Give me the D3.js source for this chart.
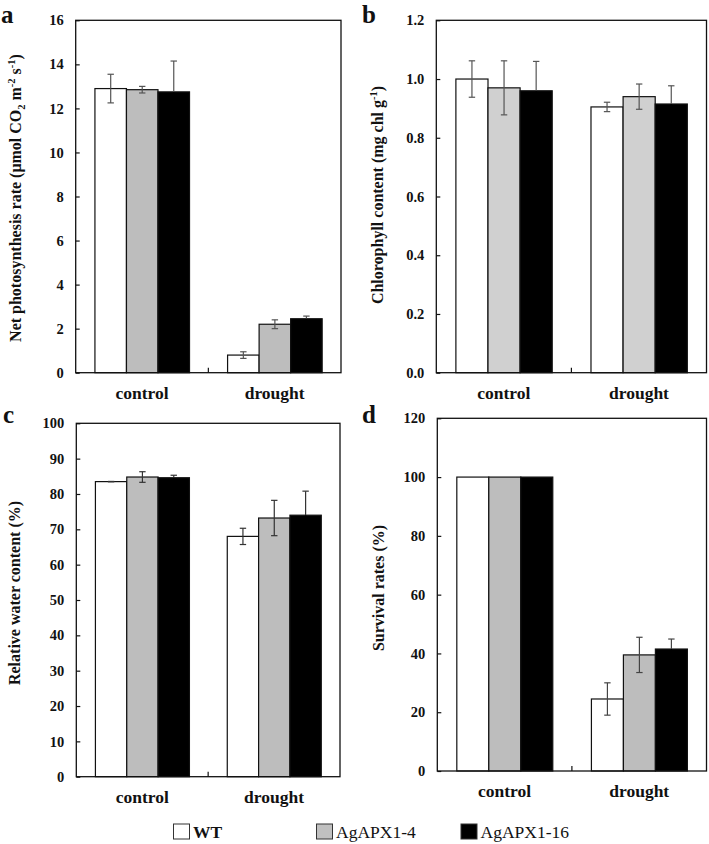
<!DOCTYPE html>
<html>
<head>
<meta charset="utf-8">
<script src="https://cdn.jsdelivr.net/npm/d3@7"></script>
<style>
  html, body { margin: 0; padding: 0; background: #fff; }
  svg { display: block; }
  text { font-family: "Liberation Serif", "Times New Roman", serif; }
</style>
</head>
<body>
<svg id="chart" width="709" height="844"></svg>
<script>
// ---------------- DATA ----------------
const categories = ["control", "drought"];
const series = ["WT", "AgAPX1-4", "AgAPX1-16"];

// panel a: net photosynthesis rate  [control, drought] per series
const photoWT   = [12.9, 0.8];
const photoL4   = [12.85, 2.2];
const photoL16  = [12.75, 2.45];
const photoErrWT  = [0.65, 0.15];
const photoErrL4  = [0.15, 0.2];
const photoErrL16 = [1.4, 0.12];
const photoTicks = [0, 2, 4, 6, 8, 10, 12, 14, 16];

// panel b: chlorophyll content
const chlWT   = [1.0, 0.905];
const chlL4   = [0.97, 0.94];
const chlL16  = [0.96, 0.915];
const chlErrWT  = [0.062, 0.016];
const chlErrL4  = [0.092, 0.043];
const chlErrL16 = [0.1, 0.062];
const chlTicks = [0, 0.2, 0.4, 0.6, 0.8, 1.0, 1.2];

// panel c: relative water content
const rwcWT   = [83.5, 68.0];
const rwcL4   = [84.8, 73.2];
const rwcL16  = [84.6, 74.0];
const rwcErrWT  = [0.05, 2.3];
const rwcErrL4  = [1.5, 5.0];
const rwcErrL16 = [0.7, 6.8];
const rwcTicks = [0, 10, 20, 30, 40, 50, 60, 70, 80, 90, 100];

// panel d: survival rates
const survWT   = [100, 24.5];
const survL4   = [100, 39.5];
const survL16  = [100, 41.5];
const survErrWT  = [0, 5.5];
const survErrL4  = [0, 6.0];
const survErrL16 = [0, 3.4];
const survTicks = [0, 20, 40, 60, 80, 100, 120];

// ---------------- DRAW ----------------
const svg = d3.select("#chart");
const fills = ["#ffffff", "#c0c0c0", "#000000"];

function panel(cfg) {
  const { left, right, top, bottom, max, ticks, fmt, vals, errs, letter, letterX, letterY,
          titleX, titleY, title, gray, errColor } = cfg;
  const g = svg.append("g");
  const y = d3.scaleLinear().domain([0, max]).range([bottom, top]);
  const x = d3.scaleBand().domain(categories).range([left, right]).padding(0);
  const bw = x.bandwidth();
  const xs = d3.scaleBand().domain(series).range([bw * 0.145, bw * 0.858]).padding(0);
  const colors = [fills[0], gray, fills[2]];

  // bars
  series.forEach((s, si) => {
    categories.forEach((c, ci) => {
      const v = vals[si][ci];
      g.append("rect")
        .attr("x", x(c) + xs(s))
        .attr("y", y(v))
        .attr("width", xs.bandwidth())
        .attr("height", y(0) - y(v))
        .attr("fill", colors[si])
        .attr("stroke", "#111")
        .attr("stroke-width", 1.2);
    });
  });
  // error bars
  series.forEach((s, si) => {
    categories.forEach((c, ci) => {
      const v = vals[si][ci], e = errs[si][ci];
      if (!e) return;
      const cx = x(c) + xs(s) + xs.bandwidth() / 2;
      const cw = 3.2;
      const up = g.append("g").attr("stroke", errColor).attr("stroke-width", 1.2);
      up.append("line").attr("x1", cx).attr("x2", cx).attr("y1", y(v)).attr("y2", y(v + e));
      up.append("line").attr("x1", cx - cw).attr("x2", cx + cw).attr("y1", y(v + e)).attr("y2", y(v + e));
      const lowCol = si === 2 ? "#000" : errColor;
      const lo = g.append("g").attr("stroke", lowCol).attr("stroke-width", 1.2);
      lo.append("line").attr("x1", cx).attr("x2", cx).attr("y1", y(v)).attr("y2", y(v - e));
      lo.append("line").attr("x1", cx - cw).attr("x2", cx + cw).attr("y1", y(v - e)).attr("y2", y(v - e));
    });
  });

  // frame
  g.append("rect").attr("x", left).attr("y", top)
    .attr("width", right - left).attr("height", bottom - top)
    .attr("fill", "none").attr("stroke", "#111").attr("stroke-width", 1.3);

  // y axis (inward ticks)
  const ax = g.append("g").attr("transform", `translate(${left},0)`)
    .call(d3.axisLeft(y).tickValues(ticks).tickFormat(fmt).tickSizeInner(-4).tickSizeOuter(0).tickPadding(12));
  ax.select(".domain").remove();
  ax.selectAll(".tick line").attr("stroke", "#111").attr("stroke-width", 1.2);
  ax.selectAll(".tick text").attr("font-family", "Liberation Serif, serif")
    .attr("font-weight", "bold").attr("font-size", 14.5).attr("fill", "#111");

  // x axis: middle tick + category labels
  const xa = g.append("g").attr("transform", `translate(0,${bottom})`)
    .call(d3.axisBottom(x).tickSize(0).tickPadding(0));
  xa.select(".domain").remove();
  xa.selectAll(".tick text").attr("font-family", "Liberation Serif, serif")
    .attr("font-weight", "bold").attr("font-size", 17.5).attr("fill", "#111")
    .attr("dy", null).attr("y", 26);
  g.append("line").attr("x1", x(categories[1])).attr("x2", x(categories[1]))
    .attr("y1", bottom).attr("y2", bottom - 5).attr("stroke", "#111").attr("stroke-width", 1.2);

  // panel letter
  g.append("text").attr("x", letterX).attr("y", letterY).text(letter)
    .attr("font-weight", "bold").attr("font-size", 25).attr("fill", "#111");

  // title
  const t = g.append("text")
    .attr("transform", `translate(${titleX},${titleY}) rotate(-90)`)
    .attr("text-anchor", "middle")
    .attr("font-weight", "bold").attr("font-size", 16).attr("fill", "#111");
  title.forEach(p => {
    const ts = t.append("tspan").text(p.t);
    if (p.sup) ts.attr("font-size", 10.5).attr("dy", -6);
    if (p.sub) ts.attr("font-size", 10.5).attr("dy", 4);
    if (p.back) ts.attr("dy", p.back);
  });
}

panel({
  left: 75.7, right: 341, top: 20.3, bottom: 372.7, max: 16,
  ticks: photoTicks, fmt: d3.format("d"),
  vals: [photoWT, photoL4, photoL16], errs: [photoErrWT, photoErrL4, photoErrL16],
  letter: "a", letterX: 1, letterY: 22.5, titleX: 21, titleY: 198,
  gray: "#bdbdbd", errColor: "#555",
  title: [
    { t: "Net photosynthesis rate (μmol CO" },
    { t: "2", sub: true },
    { t: " m", back: -4 },
    { t: "-2", sup: true },
    { t: " s", back: 6 },
    { t: "-1", sup: true },
    { t: ")", back: 6 }
  ]
});

panel({
  left: 436.3, right: 706.5, top: 20.3, bottom: 372.7, max: 1.2,
  ticks: chlTicks, fmt: d3.format(".1f"),
  vals: [chlWT, chlL4, chlL16], errs: [chlErrWT, chlErrL4, chlErrL16],
  letter: "b", letterX: 362, letterY: 22.5, titleX: 383, titleY: 195,
  gray: "#d0d0d0", errColor: "#555",
  title: [
    { t: "Chlorophyll content (mg chl g" },
    { t: "-1", sup: true },
    { t: ")", back: 6 }
  ]
});

panel({
  left: 76.3, right: 340, top: 423.3, bottom: 776.7, max: 100,
  ticks: rwcTicks, fmt: d3.format("d"),
  vals: [rwcWT, rwcL4, rwcL16], errs: [rwcErrWT, rwcErrL4, rwcErrL16],
  letter: "c", letterX: 3, letterY: 423, titleX: 20, titleY: 593,
  gray: "#bdbdbd", errColor: "#333",
  title: [{ t: "Relative water content (%)" }]
});

panel({
  left: 437.3, right: 706.5, top: 418.3, bottom: 771, max: 120,
  ticks: survTicks, fmt: d3.format("d"),
  vals: [survWT, survL4, survL16], errs: [survErrWT, survErrL4, survErrL16],
  letter: "d", letterX: 362, letterY: 423, titleX: 384, titleY: 588,
  gray: "#bdbdbd", errColor: "#444",
  title: [{ t: "Survival rates (%)" }]
});

// legend
const legendX = [173.5, 316.5, 461];
const legendFill = ["#ffffff", "#c0c0c0", "#000000"];
const lg = svg.append("g");
series.forEach((s, i) => {
  lg.append("rect").attr("x", legendX[i]).attr("y", 824).attr("width", 16).attr("height", 15)
    .attr("fill", legendFill[i]).attr("stroke", "#333").attr("stroke-width", 1);
  lg.append("text").attr("x", legendX[i] + 19.5).attr("y", 838).text(s)
    .attr("font-size", 17.5).attr("font-weight", i === 0 ? "bold" : "normal").attr("fill", "#111");
});
</script>
</body>
</html>
